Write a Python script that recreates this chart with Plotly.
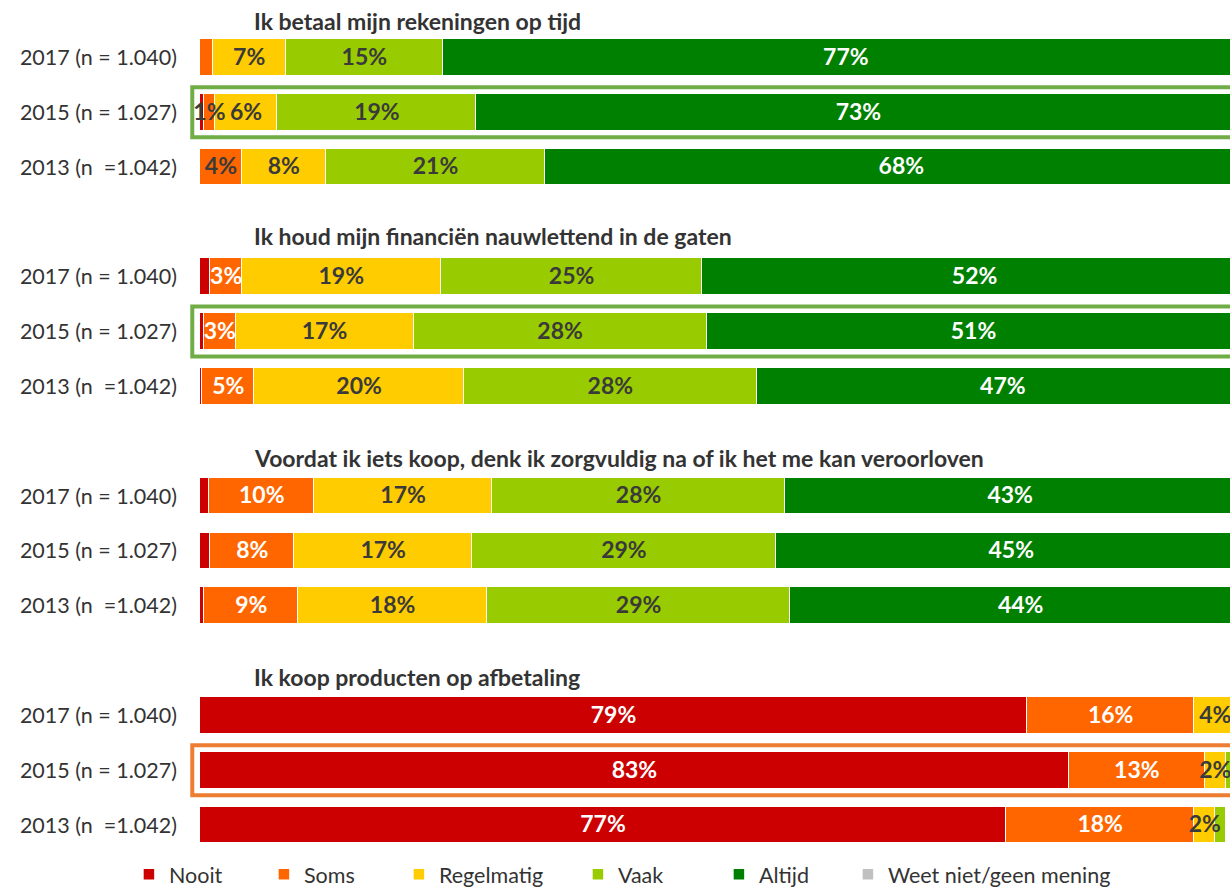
import plotly.graph_objects as go

statements = [
    "Ik betaal mijn rekeningen op tijd",
    "Ik houd mijn financiën nauwlettend in de gaten",
    "Voordat ik iets koop, denk ik zorgvuldig na of ik het me kan veroorloven",
    "Ik koop producten op afbetaling",
]
years = ["2017 (n = 1.040)", "2015 (n = 1.027)", "2013 (n  =1.042)"]

# Percentages per bar: statement 1 (2017, 2015, 2013), statement 2 (...), ...
nooit      = [0, 0.4, 0,   1, 0.4, 0.2,   0.9, 1, 0.4,   79, 83, 77]
soms       = [1.2, 1, 4,   3, 3, 5,       10, 8, 9,      16, 13, 18]
regelmatig = [7, 6, 8,     19, 17, 20,    17, 17, 18,    4, 2, 2]
vaak       = [15, 19, 21,  25, 28, 28,    28, 29, 29,    0.5, 0.5, 1]
altijd     = [77, 73, 68,  52, 51, 47,    43, 45, 44,    0, 0, 0]
weet_niet  = [0, 0, 0,     0, 0, 0,       0, 0, 0,       0, 0, 0]

# Which segments carry a percentage label
nooit_lbl      = [0, 0, 0, 0, 0, 0, 0, 0, 0, 1, 1, 1]
soms_lbl       = [0, 1, 1, 1, 1, 1, 1, 1, 1, 1, 1, 1]
regelmatig_lbl = [1, 1, 1, 1, 1, 1, 1, 1, 1, 1, 1, 1]
vaak_lbl       = [1, 1, 1, 1, 1, 1, 1, 1, 1, 0, 0, 0]
altijd_lbl     = [1, 1, 1, 1, 1, 1, 1, 1, 1, 0, 0, 0]
weet_niet_lbl  = [0, 0, 0, 0, 0, 0, 0, 0, 0, 0, 0, 0]

DARK = "#3a3a3a"
WHITE = "#ffffff"
FONT = "Lato"

# vertical slot of each bar: 3 bars per statement plus one empty slot
positions = [g * 4 + r for g in range(len(statements)) for r in range(len(years))]
tick_text = [years[r] for g in range(len(statements)) for r in range(len(years))]

# heading distance above the first bar of each block (in bar slots)
heading_offset = [0.66, 0.75, 0.70, 0.70]

series = [
    # name, values, label mask, colour, label colours, legend text width
    ("Nooit", nooit, nooit_lbl, "#CC0000", [WHITE] * 12, 90),
    ("Soms", soms, soms_lbl, "#FF6600", [DARK] * 3 + [WHITE] * 9, 90),
    ("Regelmatig", regelmatig, regelmatig_lbl, "#FFCC00", [DARK] * 12, 134),
    ("Vaak", vaak, vaak_lbl, "#99CC00", [DARK] * 12, 96),
    ("Altijd", altijd, altijd_lbl, "#008000", [WHITE] * 12, 84),
    ("Weet niet/geen mening", weet_niet, weet_niet_lbl, "#C0C0C0", [DARK] * 12, 260),
]

fig = go.Figure()

# stacked segments
for name, vals, lbl, color, tcolors, lw in series:
    fig.add_trace(go.Bar(
        name=name,
        x=vals,
        y=positions,
        orientation="h",
        width=0.67,
        marker=dict(color=color, line=dict(color="white", width=1.5)),
        legendwidth=lw,
        hoverinfo="skip",
    ))

# percentage labels centred on each segment
lab_x, lab_y, lab_t, lab_c = [], [], [], []
start = [0.0] * len(positions)
for name, vals, lbl, color, tcolors, lw in series:
    for i, (v, show) in enumerate(zip(vals, lbl)):
        if show:
            lab_x.append(start[i] + v / 2)
            lab_y.append(positions[i] + 0.03)
            lab_t.append(f"{v:.0f}%")
            lab_c.append(tcolors[i])
        start[i] += v

fig.add_trace(go.Scatter(
    x=lab_x, y=lab_y, text=lab_t, mode="text",
    textposition="middle center",
    textfont=dict(family=FONT, size=23, color=lab_c, weight="bold"),
    showlegend=False, hoverinfo="skip", cliponaxis=False,
))

# statement headings above each block of bars
for g, title in enumerate(statements):
    fig.add_annotation(
        x=0.0505, xref="paper", y=g * 4 - heading_offset[g], yref="y",
        text=f"<b>{title}</b>", showarrow=False, xanchor="left", yanchor="middle",
        font=dict(family=FONT, size=23, color="#333333"),
    )

# highlight frames around the 2015 rows
frames = [(1, "#70AD47"), (5, "#70AD47"), (13, "#ED7D31")]
for p, c in frames:
    fig.add_shape(
        type="rect", xref="paper", yref="y",
        x0=-0.0075, x1=1.005, y0=p - 0.455, y1=p + 0.455,
        line=dict(color=c, width=4), fillcolor="rgba(0,0,0,0)", layer="above",
    )

fig.update_layout(
    width=1230, height=888,
    margin=dict(l=200, r=0, t=8, b=30, autoexpand=False),
    barmode="stack",
    bargap=0,
    plot_bgcolor="white",
    paper_bgcolor="white",
    font=dict(family=FONT, size=21, color="#333333"),
    xaxis=dict(range=[0, 98.4], visible=False, fixedrange=True),
    yaxis=dict(
        range=[14.6, -0.9],
        tickvals=positions, ticktext=tick_text,
        showgrid=False, zeroline=False, showline=False, ticks="",
        ticklabelstandoff=22,
        tickfont=dict(family=FONT, size=21.5, color="#333333"),
    ),
    showlegend=True,
    legend=dict(
        orientation="h", x=-0.069, xanchor="left", y=-0.019, yanchor="middle",
        font=dict(family=FONT, size=21.5, color="#333333"),
        itemwidth=30, traceorder="normal",
        bgcolor="rgba(0,0,0,0)",
    ),
)

fig.write_html("out.html")
